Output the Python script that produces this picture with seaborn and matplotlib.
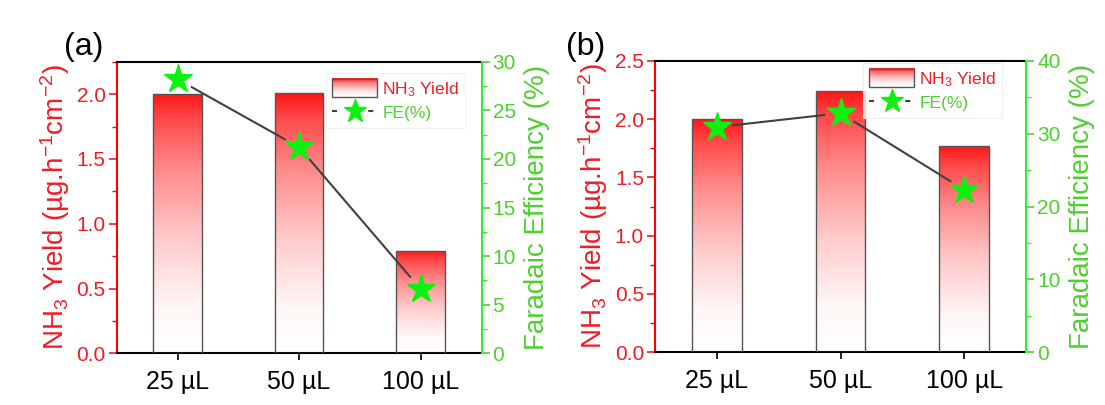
import numpy as np
import pandas as pd
import matplotlib
matplotlib.use("Agg")
import matplotlib.pyplot as plt
import seaborn as sns
from matplotlib import font_manager as fm
from matplotlib.colors import LinearSegmentedColormap
from matplotlib.lines import Line2D
from matplotlib.patches import Rectangle, Patch
from matplotlib.image import BboxImage
from matplotlib.transforms import Bbox, TransformedBbox
from matplotlib.legend_handler import HandlerBase
from matplotlib.ticker import MultipleLocator, FormatStrFormatter

# ---- data -------------------------------------------------------------
volumes = ["25 µL", "50 µL", "100 µL"]
yield_a = [2.00, 2.01, 0.79]     # NH3 yield, µg h-1 cm-2
fe_a = [28.2, 21.2, 6.6]         # Faradaic efficiency, %
yield_b = [2.00, 2.24, 1.77]
fe_b = [30.9, 32.8, 22.3]

# ---- style ------------------------------------------------------------
sns.set_style("ticks")
names = {f.name for f in fm.fontManager.ttflist}
FONT = "Liberation Sans Narrow" if "Liberation Sans Narrow" in names else "Liberation Sans"
plt.rcParams["font.family"] = [FONT, "DejaVu Sans"]
plt.rcParams["mathtext.fontset"] = "custom"
plt.rcParams["mathtext.rm"] = FONT
plt.rcParams["mathtext.default"] = "regular"

LABEL_FS = 20
XTICK_FS = 18
YTICK_FS = 15
LEG_FS = 12.5
TAG_FS = 23

RED_AX = "#ff0000"
RED_TXT = "#f01c24"
GREEN_AX = "#2ef02e"
GREEN_TXT = "#4fcf2f"
STAR = "#10f010"
LINE = "#404040"
EDGE = "#555555"

fade = LinearSegmentedColormap.from_list(
    "fade",
    [(0.0, "#ffffff"), (0.18, "#fff6f6"), (0.45, "#ffc8c8"),
     (0.7, "#ff8c8c"), (0.9, "#ff4a4a"), (1.0, "#ff1414")],
)
grad = np.linspace(0, 1, 256).reshape(-1, 1)


class GradientHandler(HandlerBase):
    def create_artists(self, legend, orig_handle, xdescent, ydescent,
                       width, height, fontsize, trans):
        box = TransformedBbox(Bbox.from_bounds(-xdescent, -ydescent, width, height), trans)
        img = BboxImage(box, cmap=fade, origin="lower", interpolation="bilinear")
        img.set_data(grad)
        img.set_clim(0, 1)
        rect = Rectangle((-xdescent, -ydescent), width, height, facecolor="none",
                         edgecolor=EDGE, linewidth=1.0, transform=trans)
        return [img, rect]


def gapped_line(ax, xs, ys, gap_px, **kw):
    pts = ax.transData.transform(np.column_stack([xs, ys]))
    inv = ax.transData.inverted()
    for p, q in zip(pts[:-1], pts[1:]):
        d = q - p
        u = d / np.hypot(*d)
        a = inv.transform(p + u * gap_px)
        b = inv.transform(q - u * gap_px)
        ax.plot([a[0], b[0]], [a[1], b[1]], **kw)


def panel(rect, yields, fe, ymax, fe_max, fe_major, tag, tag_pos, leg_anchor):
    ax = fig.add_axes(rect)
    df = pd.DataFrame({"volume": volumes, "yield": yields})
    sns.barplot(data=df, x="volume", y="yield", ax=ax, width=0.4,
                color="#ff4040", edgecolor=EDGE, linewidth=1.0, zorder=3)
    for bar in ax.patches:
        x0, y0 = bar.get_x(), bar.get_y()
        w, h = bar.get_width(), bar.get_height()
        im = ax.imshow(grad, extent=[x0, x0 + w, y0, y0 + h], origin="lower",
                       cmap=fade, vmin=0, vmax=1, aspect="auto",
                       interpolation="bilinear", zorder=2)
        im.set_clip_path(bar)
        bar.set_facecolor("none")
    ax.set_xlim(-0.5, 2.5)
    ax.set_ylim(0, ymax)

    ax.set_xlabel("")
    ax.set_ylabel(r"NH$_3$ Yield (µg.h$^{-1}$cm$^{-2}$)", color=RED_TXT,
                  fontsize=LABEL_FS, labelpad=3)
    ax.yaxis.set_major_locator(MultipleLocator(0.5))
    ax.yaxis.set_minor_locator(MultipleLocator(0.25))
    ax.yaxis.set_major_formatter(FormatStrFormatter("%.1f"))
    ax.tick_params(axis="y", which="major", colors=RED_TXT, labelsize=YTICK_FS,
                   direction="out", length=6, width=1.2, pad=2)
    ax.tick_params(axis="y", which="minor", colors=RED_AX, direction="out",
                   length=3.5, width=1.0)
    ax.tick_params(axis="x", labelsize=XTICK_FS, direction="out", length=5, width=1.2,
                   colors="black", pad=7)
    ax.spines["left"].set_color(RED_AX)
    ax.spines["left"].set_linewidth(1.5)
    ax.spines["right"].set_visible(False)
    for s in ("top", "bottom"):
        ax.spines[s].set_color("black")
        ax.spines[s].set_linewidth(1.5)

    ax2 = ax.twinx()
    ax2.set_ylim(0, fe_max)
    ax2.set_xlim(-0.5, 2.5)
    ax2.yaxis.set_major_locator(MultipleLocator(fe_major))
    ax2.yaxis.set_minor_locator(MultipleLocator(fe_major / 2))
    ax2.yaxis.set_major_formatter(FormatStrFormatter("%d"))
    ax2.tick_params(axis="y", which="major", colors=GREEN_TXT, labelsize=YTICK_FS,
                    direction="out", length=6, width=1.2, pad=2)
    ax2.tick_params(axis="y", which="minor", colors=GREEN_AX, direction="out",
                    length=3.5, width=1.0)
    ax2.spines["right"].set_color(GREEN_AX)
    ax2.spines["right"].set_linewidth(1.5)
    ax2.spines["left"].set_visible(False)
    ax2.spines["top"].set_visible(False)
    ax2.spines["bottom"].set_visible(False)
    ax2.set_ylabel("Faradaic Efficiency (%)", color=GREEN_TXT,
                   fontsize=LABEL_FS, labelpad=6)

    xs = np.arange(len(volumes))
    gapped_line(ax2, xs, fe, 16, color=LINE, linewidth=1.5, zorder=4)
    ax2.plot(xs, fe, linestyle="none", marker="*", markersize=21,
             color=STAR, markeredgecolor=STAR, zorder=5)

    h_bar = Patch(label=r"NH$_3$ Yield")
    h_fe = Line2D([], [], color=LINE, linewidth=1.5, linestyle=(0, (2.4, 15.0)),
                  marker="*", markersize=17, markerfacecolor=STAR,
                  markeredgecolor=STAR, label="FE(%)")
    leg = ax2.legend(handles=[h_bar, h_fe], loc="upper left",
                     bbox_to_anchor=leg_anchor, bbox_transform=fig.transFigure,
                     fontsize=LEG_FS, handlelength=2.6, handleheight=1.25,
                     handletextpad=0.3, labelspacing=0.25, borderpad=0.35,
                     borderaxespad=0, frameon=True, fancybox=False,
                     handler_map={Patch: GradientHandler()})
    leg.get_frame().set_edgecolor("#ececec")
    leg.get_frame().set_linewidth(0.8)
    leg.get_texts()[0].set_color(RED_TXT)
    leg.get_texts()[1].set_color(GREEN_TXT)

    fig.text(tag_pos[0], tag_pos[1], tag, fontsize=TAG_FS, color="black",
             ha="left", va="center")
    return ax, ax2


W, H = 1105, 405
fig = plt.figure(figsize=(W / 100, H / 100), dpi=100)
fig.patch.set_facecolor("white")

panel([116.7 / W, 1 - 353.3 / H, (481.5 - 116.7) / W, (353.3 - 61.7) / H],
      yield_a, fe_a, 2.25, 30, 5, "(a)", (64 / W, 1 - 47 / H), (326 / W, 1 - 73 / H))
panel([655 / W, 1 - 352.3 / H, (1026 - 655) / W, (352.3 - 60.7) / H],
      yield_b, fe_b, 2.5, 40, 10, "(b)", (566 / W, 1 - 47 / H), (863 / W, 1 - 63 / H))

fig.savefig("out.png", dpi=100, facecolor="white")
